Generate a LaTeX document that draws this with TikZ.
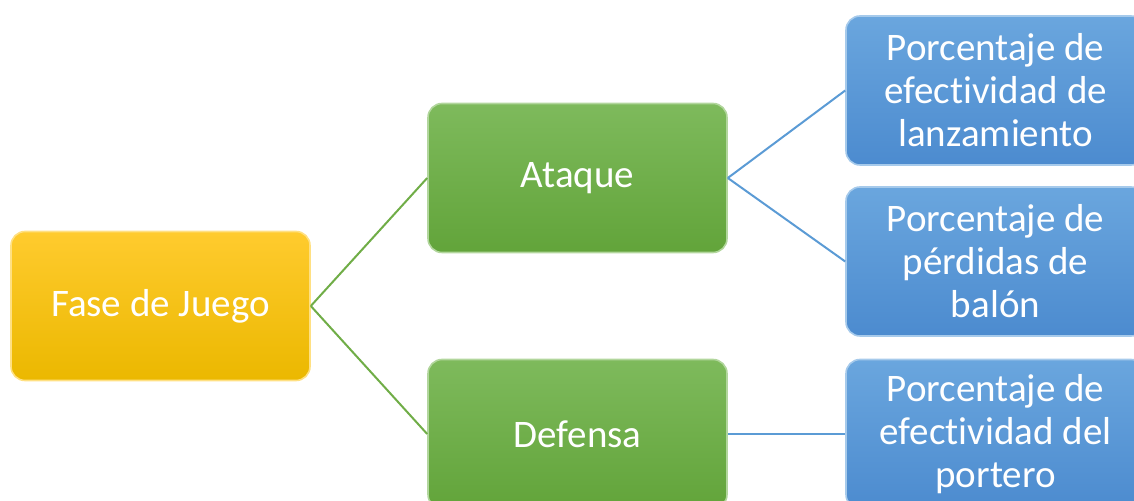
\documentclass[tikz,border=0pt]{standalone}
\usepackage{fontspec}
\setmainfont[RawFeature={-liga;-clig;-calt;-dlig}]{Carlito}
\usepackage{xcolor}
\usetikzlibrary{positioning}
\definecolor{faseyellowtop}{HTML}{FFCB2E}
\definecolor{faseyellowbot}{HTML}{EBB800}
\definecolor{fasegreentop}{HTML}{7EBA5C}
\definecolor{fasegreenbot}{HTML}{62A43A}
\definecolor{fasebluetop}{HTML}{6AA6DE}
\definecolor{fasebluebot}{HTML}{4C8BCF}
\definecolor{linkgreen}{HTML}{70AD47}
\definecolor{linkblue}{HTML}{5B9BD5}

\begin{document}
\begin{tikzpicture}[x=0.5pt, y=-0.5pt,
  box/.style={rounded corners=7pt, minimum width=149.5pt, minimum height=74.5pt,
    inner sep=0pt, align=center, text=white,
    font=\fontsize{19.5}{21.5}\selectfont},
  yellowbox/.style={box, top color=faseyellowtop, bottom color=faseyellowbot,
    draw=faseyellowtop!60!white, line width=0.8pt},
  greenbox/.style={box, top color=fasegreentop, bottom color=fasegreenbot,
    draw=fasegreentop!60!white, line width=0.8pt},
  bluebox/.style={box, top color=fasebluetop, bottom color=fasebluebot,
    draw=fasebluetop!60!white, line width=0.8pt},
  greenlink/.style={linkgreen, line width=1pt},
  bluelink/.style={linkblue, line width=1pt}]
  \useasboundingbox (0,0) rectangle (1134,501);
  \clip (0,0) rectangle (1134,501);

  % ── Root ──
  \node[yellowbox] (fase) at (160.5, 306) {Fase de Juego};

  % ── Phases ──
  \node[greenbox] (ataque)  at (577.5, 178) {Ataque};
  \node[greenbox] (defensa) at (577.5, 434) {Defensa};

  % ── Indicators ──
  \node[bluebox] (lanz)    at (995.5, 90.5)  {Porcentaje de\\efectividad de\\lanzamiento};
  \node[bluebox] (perd)    at (995.5, 261.5) {Porcentaje de\\pérdidas de\\balón};
  \node[bluebox] (portero) at (995.5, 434)   {Porcentaje de\\efectividad del\\portero};

  % Links
  \draw[greenlink] (fase.east) -- (ataque.west);
  \draw[greenlink] (fase.east) -- (defensa.west);
  \draw[bluelink] (ataque.east) -- (lanz.west);
  \draw[bluelink] (ataque.east) -- (perd.west);
  \draw[bluelink] (defensa.east) -- (portero.west);
\end{tikzpicture}
\end{document}
